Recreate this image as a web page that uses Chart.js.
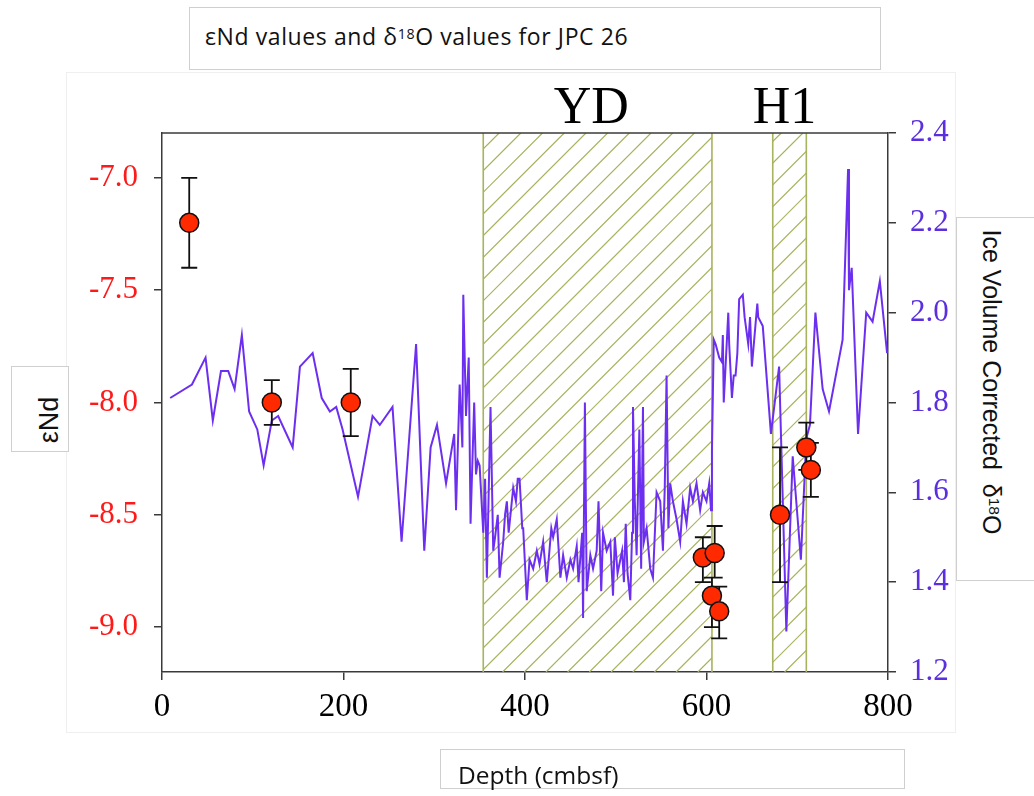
<!DOCTYPE html>
<html>
<head>
<meta charset="utf-8">
<script src="https://cdn.jsdelivr.net/npm/chart.js@4.4.0/dist/chart.umd.min.js"></script>
<style>
  body { margin: 0; background: #fff; width: 1034px; height: 796px; position: relative; overflow: hidden; }
  #panel { position: absolute; left: 66px; top: 72px; width: 888px; height: 659px; border: 1px solid #efefef; }
  #chart { position: absolute; left: 0; top: 0; }
  .box { position: absolute; background: #fff; border: 1.5px solid #cfcfcf; box-sizing: border-box; font-family: "Open Sans", "Noto Sans", sans-serif; color: #111; }
  .box span { position: absolute; white-space: nowrap; }
  #title { left: 189px; top: 7px; width: 692px; height: 63px; font-size: 23px; }
  #title span { left: 15px; top: 12px; letter-spacing: 0.6px; }
  #ndBox { left: 11px; top: 366px; width: 58px; height: 86px; font-family: "Liberation Sans", Arial, sans-serif; }
  #ndBox span { left: 37px; top: 53px; transform: translate(-50%, -50%) rotate(-90deg); font-size: 27px; }
  #rightBox { left: 956px; top: 217px; width: 100px; height: 364px; font-family: "Liberation Sans", Arial, sans-serif; }
  #rightBox span { left: 34px; top: 164px; transform: translate(-50%, -50%) rotate(90deg); font-size: 25px; }
  #depthBox { left: 440px; top: 749px; width: 465px; height: 40px; font-size: 24.5px; }
  #depthBox span { left: 17px; top: 8px; }
  sup { font-size: 0.62em; vertical-align: 0.45em; line-height: 0; }
</style>
</head>
<body>
<div id="panel"></div>
<canvas id="chart" width="1034" height="796"></canvas>
<div class="box" id="title"><span>εNd values and δ<sup>18</sup>O values for JPC 26</span></div>
<div class="box" id="ndBox"><span>εNd</span></div>
<div class="box" id="rightBox"><span>Ice Volume Corrected&nbsp; δ<sup>18</sup>O</span></div>
<div class="box" id="depthBox"><span>Depth (cmbsf)</span></div>
<script>
// εNd measurements (left axis)
const ndDepth = [30, 121, 208, 596, 609, 606, 614, 681, 710, 715]
const ndValue = [-7.2, -8.0, -8.0, -8.69, -8.67, -8.86, -8.93, -8.5, -8.2, -8.3]
const ndErrHigh = [-7.0, -7.9, -7.85, -8.6, -8.55, -8.78, -8.82, -8.2, -8.09, -8.18]
const ndErrLow = [-7.4, -8.1, -8.15, -8.8, -8.78, -9.0, -9.05, -8.8, -8.3, -8.42]

// ice volume corrected d18O record (right axis)
const o18Depth = [9, 33, 48, 56, 65, 73, 80, 88, 96, 105, 112, 121, 128, 144, 152, 166, 176, 185, 192, 199,
    216, 232, 240, 254, 264, 280, 289, 296, 303, 313, 322, 324, 328, 331, 332, 335, 338, 340, 344, 346,
    348, 350, 354, 356, 358, 362, 365, 367, 370, 372, 376, 378, 380, 382, 387, 390, 392, 394, 397, 398,
    402, 405, 409, 413, 416, 420, 424, 429, 431, 435, 439, 442, 446, 450, 453, 457, 459, 463, 464, 466,
    468, 472, 475, 479, 481, 484, 486, 490, 494, 497, 499, 502, 507, 509, 511, 513, 516, 518, 519, 521,
    523, 526, 528, 530, 531, 534, 538, 541, 545, 549, 552, 554, 556, 558, 560, 563, 567, 571, 574, 578,
    582, 585, 589, 593, 596, 600, 603, 605, 606, 608, 610, 614, 617, 618, 619, 624, 625, 628, 630, 632,
    634, 636, 640, 642, 646, 648, 650, 656, 657, 662, 671, 680, 688, 695, 704, 710, 714, 720, 728, 735,
    750, 756, 757, 760, 767, 776, 783, 791, 799]
const o18Value = [1.81, 1.84, 1.90, 1.76, 1.87, 1.87, 1.83, 1.95, 1.78, 1.74, 1.66, 1.76, 1.77, 1.70, 1.88, 1.91, 1.81, 1.78, 1.79, 1.74,
    1.59, 1.77, 1.75, 1.79, 1.49, 1.93, 1.47, 1.70, 1.75, 1.62, 1.73, 1.56, 1.84, 1.70, 2.04, 1.77, 1.90, 1.53, 1.80, 1.64,
    1.67, 1.66, 1.51, 1.63, 1.41, 1.79, 1.47, 1.50, 1.55, 1.41, 1.49, 1.55, 1.58, 1.51, 1.61, 1.58, 1.63, 1.63, 1.52, 1.52,
    1.36, 1.45, 1.43, 1.47, 1.44, 1.49, 1.40, 1.52, 1.50, 1.54, 1.41, 1.46, 1.41, 1.45, 1.43, 1.48, 1.40, 1.51, 1.32, 1.80,
    1.38, 1.46, 1.43, 1.47, 1.58, 1.38, 1.51, 1.47, 1.49, 1.37, 1.50, 1.42, 1.47, 1.40, 1.53, 1.42, 1.36, 1.51, 1.79, 1.58,
    1.46, 1.74, 1.43, 1.79, 1.49, 1.52, 1.43, 1.41, 1.60, 1.58, 1.47, 1.61, 1.86, 1.52, 1.62, 1.58, 1.54, 1.49, 1.58, 1.53,
    1.61, 1.58, 1.62, 1.56, 1.60, 1.58, 1.62, 1.56, 1.69, 1.94, 1.93, 1.90, 1.89, 1.95, 1.80, 2.00, 1.93, 1.81, 1.86, 1.86,
    1.91, 2.03, 2.04, 1.99, 1.93, 1.99, 1.88, 2.02, 1.99, 1.97, 1.73, 1.88, 1.29, 1.68, 1.45, 1.72, 1.75, 2.00, 1.83, 1.78,
    1.94, 2.32, 2.05, 2.10, 1.73, 2.00, 1.98, 2.07, 1.91]

// climate events
const bandLabels = ['YD', 'H1']
const bandStart = [354, 673]
const bandEnd = [606, 710]
const bandLabelDepth = [473, 686]

const xTicks = [0, 200, 400, 600, 800]
const ndTicks = [-9.0, -8.5, -8.0, -7.5, -7.0]
const o18Ticks = [1.2, 1.4, 1.6, 1.8, 2.0, 2.2, 2.4]

const axisColor = '#3a3a3a'
const hatchColor = '#a9b25e'

const bandsPlugin = {
    id: 'bands',
    beforeDatasetsDraw(chart) {
        const { ctx, chartArea: { top, bottom }, scales: { x } } = chart
        const h = bottom - top
        bandStart.forEach((start, i) => {
            const x0 = x.getPixelForValue(start)
            const x1 = x.getPixelForValue(bandEnd[i])
            ctx.save()
            ctx.beginPath()
            ctx.rect(x0, top, x1 - x0, h)
            ctx.clip()
            ctx.strokeStyle = hatchColor
            ctx.lineWidth = 1.2
            ctx.beginPath()
            for (let c = -h; c < 1100; c += 21.7) {
                ctx.moveTo(c, bottom)
                ctx.lineTo(c + h, top)
            }
            ctx.stroke()
            ctx.restore()
            ctx.save()
            ctx.strokeStyle = hatchColor
            ctx.lineWidth = 1.6
            ctx.beginPath()
            ctx.moveTo(x0, top); ctx.lineTo(x0, bottom)
            ctx.moveTo(x1, top); ctx.lineTo(x1, bottom)
            ctx.stroke()
            ctx.restore()
        })
    },
    beforeDatasetDraw(chart, args) {
        if (args.index !== 0) return
        const { ctx, scales: { x, y } } = chart
        ctx.save()
        ctx.strokeStyle = '#111'
        ctx.lineWidth = 1.8
        ctx.beginPath()
        ndDepth.forEach((d, i) => {
            const px = x.getPixelForValue(d)
            const yHi = y.getPixelForValue(ndErrHigh[i])
            const yLo = y.getPixelForValue(ndErrLow[i])
            ctx.moveTo(px, yHi); ctx.lineTo(px, yLo)
            ctx.moveTo(px - 8, yHi); ctx.lineTo(px + 8, yHi)
            ctx.moveTo(px - 8, yLo); ctx.lineTo(px + 8, yLo)
        })
        ctx.stroke()
        ctx.restore()
    },
    afterDraw(chart) {
        const { ctx, chartArea: { left, right, top }, scales: { x } } = chart
        ctx.save()
        ctx.strokeStyle = axisColor
        ctx.lineWidth = 1.5
        ctx.beginPath()
        ctx.moveTo(left, top); ctx.lineTo(right, top)
        ctx.stroke()
        ctx.fillStyle = '#000'
        ctx.font = '52px "Liberation Serif", "Times New Roman", serif'
        ctx.textAlign = 'center'
        ctx.textBaseline = 'alphabetic'
        bandLabels.forEach((lab, i) => {
            ctx.fillText(lab, x.getPixelForValue(bandLabelDepth[i]), top - 10)
        })
        ctx.restore()
    }
}

const tickFont = { family: '"Liberation Serif", "Times New Roman", serif', size: 31 }

new Chart(document.getElementById('chart'), {
    type: 'scatter',
    data: {
        datasets: [
            {
                label: 'εNd',
                data: ndDepth.map((d, i) => ({ x: d, y: ndValue[i] })),
                yAxisID: 'y',
                pointRadius: 9.5,
                pointBackgroundColor: '#ff2a00',
                pointBorderColor: '#111',
                pointBorderWidth: 1.5,
                order: 1
            },
            {
                type: 'line',
                label: 'δ18O',
                data: o18Depth.map((d, i) => ({ x: d, y: o18Value[i] })),
                yAxisID: 'y2',
                borderColor: '#6c2ff0',
                borderWidth: 2,
                pointRadius: 0,
                tension: 0,
                fill: false,
                order: 2
            }
        ]
    },
    options: {
        responsive: false,
        animation: false,
        layout: { padding: { left: 62, right: 76, top: 133, bottom: 64 } },
        plugins: { legend: { display: false }, tooltip: { enabled: false } },
        scales: {
            x: {
                type: 'linear', min: 0, max: 800,
                afterBuildTicks: s => { s.ticks = xTicks.map(v => ({ value: v })) },
                afterFit: s => { s.height = 60 },
                grid: { drawOnChartArea: false, tickLength: 8, color: axisColor, lineWidth: 1.5 },
                border: { color: axisColor, width: 1.5 },
                ticks: { font: { family: tickFont.family, size: 33 }, color: '#000', padding: 8, maxRotation: 0 }
            },
            y: {
                position: 'left', min: -9.2, max: -6.8,
                afterBuildTicks: s => { s.ticks = ndTicks.map(v => ({ value: v })) },
                afterFit: s => { s.width = 100 },
                grid: { drawOnChartArea: false, tickLength: 8, color: axisColor, lineWidth: 1.5 },
                border: { color: axisColor, width: 1.5 },
                ticks: { font: tickFont, color: '#ff1a1a', padding: 16, callback: v => v.toFixed(1) }
            },
            y2: {
                position: 'right', min: 1.2, max: 2.4,
                afterBuildTicks: s => { s.ticks = o18Ticks.map(v => ({ value: v })) },
                afterFit: s => { s.width = 70 },
                grid: { drawOnChartArea: false, tickLength: 8, color: axisColor, lineWidth: 1.5 },
                border: { color: axisColor, width: 1.5 },
                ticks: { font: tickFont, color: '#5b2fe0', padding: 14, callback: v => v.toFixed(1) }
            }
        }
    },
    plugins: [bandsPlugin]
})
</script>
</body>
</html>
